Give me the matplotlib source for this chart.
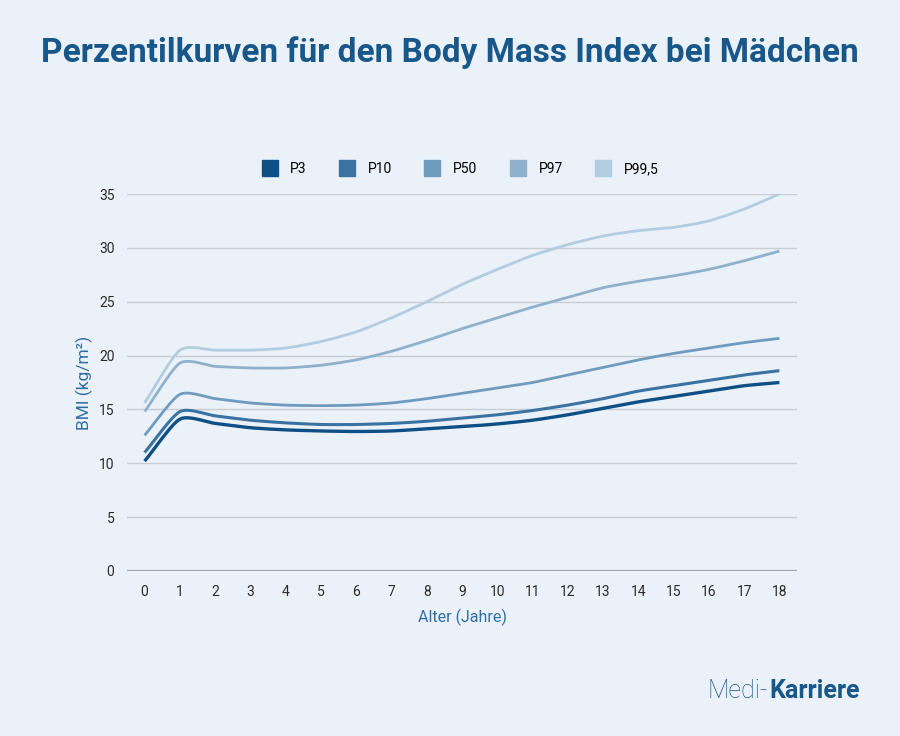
import numpy as np
import matplotlib.pyplot as plt
from matplotlib.lines import Line2D

# age in years and BMI percentile values
ages = list(range(19))
p3 = [10.2, 14.1, 13.7, 13.3, 13.1, 13.0, 12.95, 13.0, 13.2, 13.4, 13.65, 14.0, 14.5, 15.1, 15.7, 16.2, 16.7, 17.2, 17.5]
p10 = [11.0, 14.8, 14.4, 14.0, 13.75, 13.6, 13.6, 13.7, 13.9, 14.2, 14.5, 14.9, 15.4, 16.0, 16.7, 17.2, 17.7, 18.2, 18.6]
p50 = [12.6, 16.4, 16.0, 15.6, 15.4, 15.35, 15.4, 15.6, 16.0, 16.5, 17.0, 17.5, 18.2, 18.9, 19.6, 20.2, 20.7, 21.2, 21.6]
p97 = [14.8, 19.3, 19.0, 18.85, 18.85, 19.1, 19.6, 20.4, 21.4, 22.5, 23.5, 24.5, 25.4, 26.3, 26.9, 27.4, 28.0, 28.8, 29.7]
p995 = [15.6, 20.5, 20.5, 20.5, 20.7, 21.3, 22.2, 23.5, 25.0, 26.6, 28.0, 29.3, 30.3, 31.1, 31.6, 31.9, 32.5, 33.6, 35.0]

names = ['P3', 'P10', 'P50', 'P97', 'P99,5']
series = [p3, p10, p50, p97, p995]
colors = ['#0e4f86', '#3a73a2', '#6f9bbf', '#8fb1cc', '#b2cce0']
widths = [2.4, 2.2, 2.0, 2.0, 2.0]

bg = '#eaf1f8'
blue = '#185789'


def smooth(x, y, n=12, k=0.7):
    # cardinal spline through the points (k scales the tangents), only for a smooth line
    x = np.asarray(x, float)
    y = np.asarray(y, float)
    mx = np.gradient(x) * k
    my = np.gradient(y) * k
    mx[1:-1] = (x[2:] - x[:-2]) / 2 * k
    my[1:-1] = (y[2:] - y[:-2]) / 2 * k
    t = np.linspace(0, 1, n, endpoint=False)
    h00 = 2 * t ** 3 - 3 * t ** 2 + 1
    h10 = t ** 3 - 2 * t ** 2 + t
    h01 = -2 * t ** 3 + 3 * t ** 2
    h11 = t ** 3 - t ** 2
    xs, ys = [], []
    for i in range(len(x) - 1):
        xs.extend(h00 * x[i] + h10 * mx[i] + h01 * x[i + 1] + h11 * mx[i + 1])
        ys.extend(h00 * y[i] + h10 * my[i] + h01 * y[i + 1] + h11 * my[i + 1])
    xs.append(x[-1])
    ys.append(y[-1])
    return xs, ys


plt.rcParams['font.family'] = ['Roboto', 'DejaVu Sans']

fig = plt.figure(figsize=(9, 7.36), dpi=100, facecolor=bg)
ax = fig.add_axes([0.1411, 0.2242, 0.7445, 0.5122])
ax.set_facecolor(bg)

for vals, c, lw in zip(series, colors, widths):
    sx, sy = smooth(ages, vals)
    ax.plot(sx, sy, color=c, lw=lw, solid_capstyle='butt', zorder=3)

ax.set_xlim(-0.5, 18.5)
ax.set_ylim(0, 35)
ax.set_xticks(ages)
ax.set_yticks(range(0, 36, 5))
ax.grid(axis='y', color='#c9cdd2', lw=1)
ax.axhline(0, color='#a2a7ad', lw=1.6, zorder=2)
for s in ax.spines.values():
    s.set_visible(False)
ax.tick_params(length=0, labelsize=10, labelcolor='#2b2b2b')
ax.tick_params(axis='y', pad=9)
ax.tick_params(axis='x', pad=10)

ax.set_xlabel('Alter (Jahre)', color='#2f6ea5', fontsize=11.5, labelpad=7)
ax.set_ylabel('BMI (kg/m²)', color='#2f6ea5', fontsize=12.5, labelpad=4)

handles = [Line2D([], [], marker='s', ls='', markersize=11, color=c) for c in colors]
fig.legend(handles, names, loc='center', bbox_to_anchor=(0.508, 0.77), ncol=5,
           frameon=False, fontsize=10, handletextpad=0.5, columnspacing=1.9)

fig.text(0.5, 0.928, 'Perzentilkurven für den Body Mass Index bei Mädchen',
         ha='center', va='center', fontsize=24, fontweight='bold', color=blue)

fig.text(0.853, 0.061, 'Medi-', ha='right', va='center', fontsize=18,
         fontweight='light', color=blue)
fig.text(0.855, 0.061, 'Karriere', ha='left', va='center', fontsize=18,
         fontweight='bold', color=blue)

fig.savefig('out.png', dpi=100, facecolor=bg)
